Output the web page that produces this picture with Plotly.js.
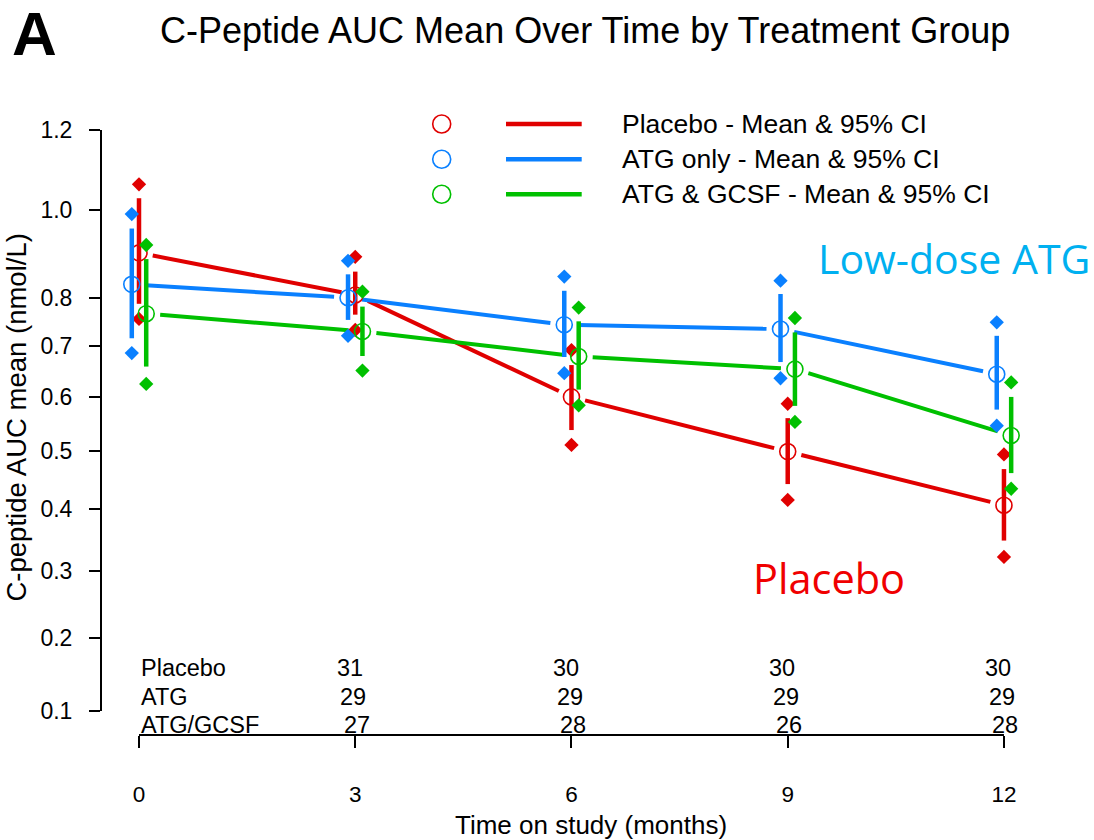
<!DOCTYPE html>
<html>
<head>
<meta charset="utf-8">
<script src="https://cdn.plot.ly/plotly-3.0.1.min.js"></script>
<style>
html,body{margin:0;padding:0;background:#fff;}
#chart{width:1094px;height:840px;}
</style>
</head>
<body>
<div id="chart"></div>
<script>
// ---------------- data ----------------
const months = [0, 3, 6, 9, 12];

const placeboMean  = [0.900, 0.807, 0.600, 0.499, 0.406];
const placeboBarLo = [0.788, 0.765, 0.538, 0.442, 0.348];
const placeboBarHi = [1.028, 0.858, 0.662, 0.560, 0.468];
const placeboCiLo  = [0.756, 0.733, 0.511, 0.415, 0.322];
const placeboCiHi  = [1.062, 0.891, 0.692, 0.587, 0.494];

const atgMean  = [0.830, 0.801, 0.744, 0.735, 0.644];
const atgBarLo = [0.716, 0.754, 0.678, 0.668, 0.576];
const atgBarHi = [0.956, 0.852, 0.816, 0.809, 0.721];
const atgCiLo  = [0.686, 0.721, 0.646, 0.636, 0.546];
const atgCiHi  = [0.990, 0.882, 0.847, 0.838, 0.749];

const gcsfMean  = [0.767, 0.730, 0.679, 0.654, 0.528];
const gcsfBarLo = [0.659, 0.680, 0.614, 0.583, 0.461];
const gcsfBarHi = [0.886, 0.782, 0.751, 0.728, 0.600];
const gcsfCiLo  = [0.625, 0.651, 0.584, 0.553, 0.434];
const gcsfCiHi  = [0.918, 0.814, 0.780, 0.758, 0.628];

const countMonths   = [3, 6, 9, 12];
const countPlacebo  = [31, 30, 30, 30];
const countATG      = [29, 29, 29, 29];
const countGCSF     = [27, 28, 26, 28];
const countLabels   = ['Placebo', 'ATG', 'ATG/GCSF'];

const yTickValues = [0.1, 0.2, 0.3, 0.4, 0.5, 0.6, 0.7, 0.8, 1.0, 1.2];
const yTickLabels = ['0.1', '0.2', '0.3', '0.4', '0.5', '0.6', '0.7', '0.8', '1.0', '1.2'];
const xTickValues = [0, 3, 6, 9, 12];

const legendLabels = ['Placebo - Mean & 95% CI', 'ATG only - Mean & 95% CI', 'ATG & GCSF - Mean & 95% CI'];

// ---------------- styling / layout ----------------
const RED = '#e00000', BLUE = '#0a80ff', GREEN = '#00c000';
const FONT = 'Liberation Sans, Arial, Helvetica, sans-serif';
const W = 1094, H = 840;
const M = {l: 101, r: 13, t: 100, b: 105};
const plotW = W - M.l - M.r, plotH = H - M.t - M.b;
const xRange = [-0.5272, -0.5272 + plotW / 72.08];
const yScaleF = v => Math.log10(1 + v);           // axis transform: log(1 + value)
const yRange = [0.02895, 0.02895 + plotH / 1930];
const pxX = px => (px - M.l) / plotW;              // pixel -> paper
const pxY = py => (H - M.b - py) / plotH;

const groups = [
  {name: 'Placebo',    color: RED,   dx: 0.0,  mean: placeboMean, bLo: placeboBarLo, bHi: placeboBarHi, cLo: placeboCiLo, cHi: placeboCiHi},
  {name: 'ATG only',   color: BLUE,  dx: -0.1, mean: atgMean,     bLo: atgBarLo,     bHi: atgBarHi,     cLo: atgCiLo,     cHi: atgCiHi},
  {name: 'ATG & GCSF', color: GREEN, dx: 0.1,  mean: gcsfMean,    bLo: gcsfBarLo,    bHi: gcsfBarHi,    cLo: gcsfCiLo,    cHi: gcsfCiHi}
];

// connecting lines with a gap around each point (like R type = "b")
const GAP = 14;
const kx = plotW / (xRange[1] - xRange[0]);
const ky = plotH / (yRange[1] - yRange[0]);
function gappedSegments(xs, ys) {
  const X = [], Y = [];
  for (let i = 0; i < xs.length - 1; i++) {
    const ax = xs[i] * kx, ay = ys[i] * ky, bx = xs[i + 1] * kx, by = ys[i + 1] * ky;
    const d = Math.hypot(bx - ax, by - ay);
    if (d <= 2 * GAP) continue;
    const ux = (bx - ax) / d, uy = (by - ay) / d;
    X.push((ax + ux * GAP) / kx, (bx - ux * GAP) / kx, null);
    Y.push((ay + uy * GAP) / ky, (by - uy * GAP) / ky, null);
  }
  return {X, Y};
}

const traces = [];
groups.forEach(g => {
  const xs = months.map(m => m + g.dx);
  const seg = gappedSegments(xs, g.mean.map(yScaleF));
  traces.push({type: 'scatter', mode: 'lines', x: seg.X, y: seg.Y,
    line: {color: g.color, width: 4}, hoverinfo: 'skip', showlegend: false});
});
groups.forEach(g => {
  const xs = months.map(m => m + g.dx);
  const bx = [], by = [];
  xs.forEach((x, i) => { bx.push(x, x, null); by.push(yScaleF(g.bLo[i]), yScaleF(g.bHi[i]), null); });
  traces.push({type: 'scatter', mode: 'lines', x: bx, y: by,
    line: {color: g.color, width: 4.5}, hoverinfo: 'skip', showlegend: false});
  traces.push({type: 'scatter', mode: 'markers', x: xs.concat(xs),
    y: g.cLo.concat(g.cHi).map(yScaleF),
    marker: {symbol: 'diamond', size: 11, color: g.color, line: {width: 0}},
    showlegend: false, name: g.name + ' 95% CI'});
  traces.push({type: 'scatter', mode: 'markers', x: xs, y: g.mean.map(yScaleF),
    marker: {symbol: 'circle-open', size: 16, color: g.color, line: {width: 1.6, color: g.color}},
    showlegend: false, name: g.name + ' mean'});
});

const annotations = [];
const shapes = [];

// axis lines spanning only the tick range (R style)
shapes.push({type: 'line', xref: 'x', yref: 'paper', x0: xTickValues[0], x1: xTickValues[xTickValues.length - 1], y0: 0, y1: 0,
  line: {color: '#000', width: 2}});
shapes.push({type: 'line', xref: 'paper', yref: 'y', x0: 0, x1: 0, y0: yScaleF(yTickValues[0]), y1: yScaleF(yTickValues[yTickValues.length - 1]),
  line: {color: '#000', width: 2}});

// legend (drawn by hand: circle, line, text)
const legendRowsY = [124, 159.3, 194.3];
groups.forEach((g, i) => {
  const yy = pxY(legendRowsY[i]);
  shapes.push({type: 'circle', xref: 'paper', yref: 'paper', xsizemode: 'pixel', ysizemode: 'pixel',
    xanchor: pxX(441.7), yanchor: yy, x0: -9, x1: 9, y0: -9, y1: 9,
    line: {color: g.color, width: 1.6}});
  shapes.push({type: 'line', xref: 'paper', yref: 'paper', x0: pxX(506), x1: pxX(581.7), y0: yy, y1: yy,
    line: {color: g.color, width: 4.5}});
  annotations.push({xref: 'paper', yref: 'paper', x: pxX(620), y: yy, xanchor: 'left', yanchor: 'middle',
    text: legendLabels[i], showarrow: false, font: {family: FONT, size: 26.5, color: '#000'}});
});

// count table
const tableRowsY = [668, 697, 725];
const tableShift = [-5.5, -1.8, 1.3];
const tableCounts = [countPlacebo, countATG, countGCSF];
countLabels.forEach((lab, r) => {
  annotations.push({xref: 'paper', yref: 'paper', x: pxX(138.5), y: pxY(tableRowsY[r]), xanchor: 'left', yanchor: 'middle',
    text: lab, showarrow: false, font: {family: FONT, size: 23.5, color: '#000'}});
  countMonths.forEach((m, k) => {
    annotations.push({xref: 'x', yref: 'paper', x: m, xshift: tableShift[r], y: pxY(tableRowsY[r]), xanchor: 'center', yanchor: 'middle',
      text: String(tableCounts[r][k]), showarrow: false, font: {family: FONT, size: 23.5, color: '#000'}});
  });
});

// axis titles
annotations.push({xref: 'paper', yref: 'paper', x: pxX(16), y: pxY(417.5), xanchor: 'center', yanchor: 'middle', textangle: -90,
  text: 'C-peptide AUC mean (nmol/L)', showarrow: false, font: {family: FONT, size: 27.5, color: '#000'}});
annotations.push({xref: 'paper', yref: 'paper', x: pxX(591), y: pxY(825), xanchor: 'center', yanchor: 'middle',
  text: 'Time on study (months)', showarrow: false, font: {family: FONT, size: 26, color: '#000'}});

// panel letter and callouts
annotations.push({xref: 'paper', yref: 'paper', x: pxX(10), y: pxY(34), xanchor: 'left', yanchor: 'middle',
  text: '<b>A</b>', showarrow: false, font: {family: FONT, size: 62, color: '#000'}});
annotations.push({xref: 'paper', yref: 'paper', x: pxX(954), y: pxY(258), xanchor: 'center', yanchor: 'middle',
  text: 'Low-dose ATG', showarrow: false, font: {family: 'Open Sans, Noto Sans, sans-serif', size: 41, color: '#00b0f0'}});
annotations.push({xref: 'paper', yref: 'paper', x: pxX(828.5), y: pxY(578), xanchor: 'center', yanchor: 'middle',
  text: 'Placebo', showarrow: false, font: {family: 'Open Sans, Noto Sans, sans-serif', size: 41.5, color: '#f00000'}});

const layout = {
  width: W, height: H,
  margin: M,
  paper_bgcolor: '#fff', plot_bgcolor: '#fff',
  showlegend: false,
  title: {text: 'C-Peptide AUC Mean Over Time by Treatment Group', x: 160 / W, xanchor: 'left', xref: 'container',
    y: 1 - 30 / H, yanchor: 'middle', yref: 'container', font: {family: FONT, size: 36, color: '#000'}},
  xaxis: {range: xRange, tickmode: 'array', tickvals: xTickValues, ticktext: xTickValues.map(String),
    showgrid: false, zeroline: false, showline: false, ticks: 'outside', ticklen: 12, tickwidth: 2, tickcolor: '#000',
    ticklabelstandoff: 27, tickfont: {family: FONT, size: 22.5, color: '#000'}, fixedrange: true},
  yaxis: {range: yRange, tickmode: 'array', tickvals: yTickValues.map(yScaleF), ticktext: yTickLabels,
    showgrid: false, zeroline: false, showline: false, ticks: 'outside', ticklen: 11, tickwidth: 2, tickcolor: '#000',
    ticklabelstandoff: 12, tickfont: {family: FONT, size: 23, color: '#000'}, fixedrange: true},
  shapes: shapes,
  annotations: annotations
};

Plotly.newPlot('chart', traces, layout, {displayModeBar: false, staticPlot: true});
</script>
</body>
</html>
